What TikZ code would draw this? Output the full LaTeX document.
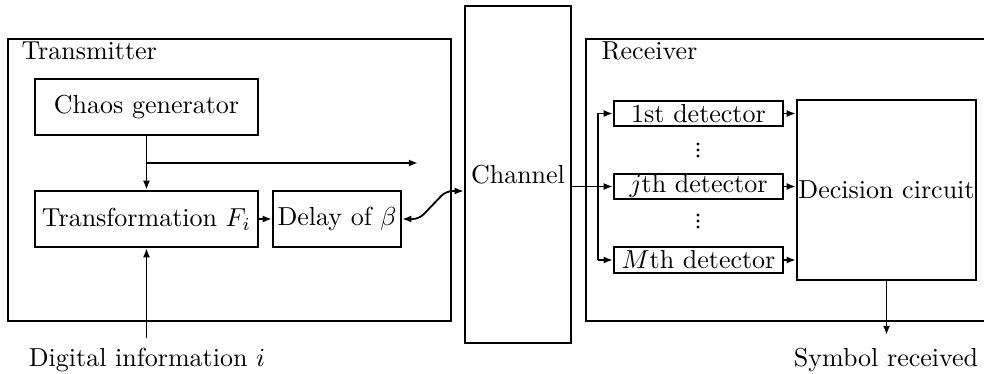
\documentclass[tikz,border=0pt]{standalone}
\usetikzlibrary{arrows.meta}
\begin{document}
\begin{tikzpicture}[x=0.3846pt,y=-0.3846pt,
  rbox/.style n args={2}{draw,line width=0.9pt,inner sep=0pt,
    minimum width={#1*0.3846pt},minimum height={#2*0.3846pt}},
  conn/.style={line width=0.7pt,-{Latex[length=3.5pt,width=2.7pt]}},
  wire/.style={line width=0.7pt},
  lbl/.style={inner sep=0pt,anchor=base west},
  captext/.style={inner sep=0pt,anchor=base},
  dotmark/.style={fill,circle,inner sep=0pt,minimum size=1.2pt}]
\clip (0,0) rectangle (984,374);
% outer frames
\node[rbox={443}{282}] (tx) at (229.5,180) {};
\node[lbl] (txl) at (21,60) {Transmitter};
\node[rbox={106}{337}] (ch) at (518,174.5) {Channel};
\node[rbox={409}{282}] (rx) at (790.5,180) {};
\node[lbl] (rxl) at (601,60) {Receiver};
% transmitter blocks
\node[rbox={223}{56}] (cg) at (146.5,107) {Chaos generator};
\node[rbox={223}{56}] (tf) at (146.5,219) {Transformation $F_i$};
\node[rbox={128}{56}] (dl) at (337,219) {Delay of $\beta$};
% receiver blocks
\node[rbox={169}{25}] (d1) at (698.5,113.5) {1st detector};
\node[rbox={169}{25}] (dj) at (698.5,186.5) {$j$th detector};
\node[rbox={169}{26}] (dm) at (698.5,260) {$M$th detector};
\node[rbox={179}{180}] (dc) at (886.5,190) {Decision circuit};
% vertical dots
\foreach \yy in {144,150,156,215,221,227}
  \node[dotmark] at (698,\yy) {};
% captions
\node[captext] (din) at (147,366) {Digital information $i$};
\node[captext] (sym) at (886,366) {Symbol received};
% coordinates
\coordinate (brend) at (418,163);
\coordinate (br) at (cg.south |- brend);
\coordinate (dinstart) at (tf.south |- 0,338);
\coordinate (symend) at (dc.south |- 0,335);
\coordinate (bend) at (446,191);
\coordinate (chin) at (ch.west |- bend);
\coordinate (bx) at (598,186);
% transmitter connectors
\draw[conn] (cg.south) -- (tf.north);
\draw[conn] (br) -- (brend);
\draw[conn] (tf.east) -- (dl.west);
\draw[conn] (dinstart) -- (tf.south);
\draw[wire,{Latex[length=3.5pt,width=2.7pt]}-{Latex[length=3.5pt,width=2.7pt]},rounded corners=2.5pt]
  (dl.east) -- ++(17,0) -- (bend) -- (chin);
% receiver connectors
\draw[conn] (ch.east |- dj.west) -- (dj.west);
\draw[wire] (bx |- d1.west) -- (bx |- dm.west);
\draw[conn] (bx |- d1.west) -- (d1.west);
\draw[conn] (bx |- dm.west) -- (dm.west);
\draw[conn] (d1.east) -- (d1.east -| dc.west);
\draw[conn] (dj.east) -- (dj.east -| dc.west);
\draw[conn] (dm.east) -- (dm.east -| dc.west);
\draw[conn] (dc.south) -- (symend);
\end{tikzpicture}
\end{document}
